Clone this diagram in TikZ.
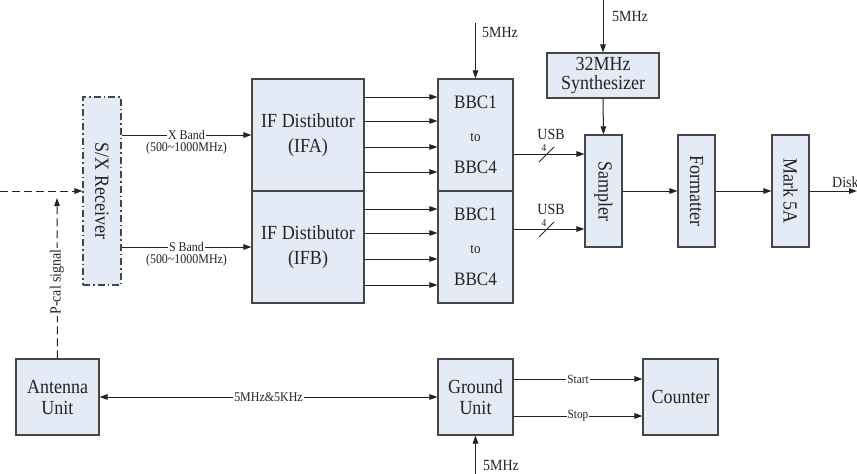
\documentclass[tikz,border=0pt]{standalone}
\usepackage{fontspec}
\setmainfont[FakeStretch=0.9]{Liberation Serif}
\usetikzlibrary{arrows.meta}
\definecolor{boxfill}{RGB}{228,235,246}
\definecolor{edge}{RGB}{70,70,70}
\definecolor{ink}{RGB}{35,35,35}
\begin{document}
\begin{tikzpicture}[x=1pt,y=-1pt,
  blk/.style={draw=edge, fill=boxfill, line width=1.1pt, inner sep=0pt, text=ink, align=center},
  big/.style={font=\fontsize{20}{22}\selectfont},
  arr/.style={draw=ink, line width=1pt, -{Triangle[length=8pt,width=5.5pt]}},
  dashline/.style={dash pattern=on 8pt off 4pt},
  lbl/.style={font=\fontsize{13.3}{15}\selectfont, text=ink, fill=white, inner sep=1pt},
  sml/.style={font=\fontsize{13.3}{15}\selectfont, text=ink, inner sep=0pt},
  mid/.style={font=\fontsize{15.5}{17}\selectfont, text=ink, inner sep=0pt}
]
\useasboundingbox (0,0) rectangle (857,474);

% blocks
\node[blk, minimum width=38pt, minimum height=188pt, dash pattern=on 7pt off 3pt on 1.5pt off 3pt,
      label={[rotate=-90, big, text=ink]center:S/X Receiver}] (sx) at (102,191) {};
\node[blk, font=\fontsize{20}{25}\selectfont, minimum width=112pt, minimum height=112pt] (ifa) at (308,135) {IF Distibutor\\(IFA)};
\node[blk, font=\fontsize{20}{25}\selectfont, minimum width=112pt, minimum height=112pt] (ifb) at (308,247) {IF Distibutor\\(IFB)};
\node[blk, font=\fontsize{19}{32.5}\selectfont, minimum width=75pt, minimum height=112pt] (bbca) at (475.5,135) {BBC1\\{\fontsize{14.5}{16}\selectfont to}\\BBC4};
\node[blk, font=\fontsize{19}{32.5}\selectfont, minimum width=75pt, minimum height=112pt] (bbcb) at (475.5,247) {BBC1\\{\fontsize{14.5}{16}\selectfont to}\\BBC4};
\node[blk, font=\fontsize{20}{18.5}\selectfont, minimum width=112pt, minimum height=45pt] (synth) at (603,75.5) {32MHz\\Synthesizer};
\node[blk, minimum width=37pt, minimum height=112pt, label={[rotate=-90, big, text=ink]center:Sampler}] (sampler) at (603.5,191) {};
\node[blk, minimum width=37pt, minimum height=112pt, label={[rotate=-90, big, text=ink]center:Formatter}] (formatter) at (696.5,191) {};
\node[blk, minimum width=37pt, minimum height=112pt, label={[rotate=-90, big, text=ink]center:Mark 5A}] (mark) at (790.5,191) {};
\node[blk, font=\fontsize{20}{21}\selectfont, minimum width=83pt, minimum height=76pt] (antenna) at (57.5,397) {Antenna\\Unit};
\node[blk, font=\fontsize{20}{21}\selectfont, minimum width=75pt, minimum height=76pt] (ground) at (475.5,397) {Ground\\Unit};
\node[blk, big, minimum width=75pt, minimum height=76pt] (counter) at (680.5,397) {Counter};

% free ends
\coordinate (inL) at (0,191);
\coordinate (pcalend) at (57,198);
\coordinate (bbcsrc) at (475.5,23);
\coordinate (synsrc) at (603,0);
\coordinate (diskend) at (857,191);
\coordinate (gndsrc) at (475.5,474);

% receiver input and P-cal
\draw[arr, dashline] (inL) -- (sx.west);
\draw[arr, dashline] (antenna.north) -- (pcalend);
\node[sml, fill=white, inner sep=1.5pt, font=\fontsize{15.5}{17}\selectfont, rotate=90] (pcal) at (57,282) {P-cal signal};

% bands
\draw[arr] (sx.east |- ifa.west) -- node[lbl, pos=0.5] (xb) {X Band} (ifa.west);
\node[sml] (xbr) at (186.5,148) {(500\textasciitilde1000MHz)};
\draw[arr] (sx.east |- ifb.west) -- node[lbl, pos=0.5] (sb) {S Band} (ifb.west);
\node[sml] (sbr) at (186.5,260) {(500\textasciitilde1000MHz)};

% IF to BBC
\foreach \yy in {97,121,147,172,209,233,259,285}
  \draw[arr] (ifa.east |- 0,\yy) -- (bbca.west |- 0,\yy);

% 5MHz refs
\draw[arr] (bbcsrc) -- (bbca.north);
\node[mid, anchor=west] (f1) at (482,33) {5MHz};
\draw[arr] (synsrc) -- (synth.north);
\node[mid, anchor=west] (f2) at (612,16) {5MHz};
\draw[arr] (synth.south) -- (sampler.north);

% USB
\draw[arr] (bbca.east |- 0,154) -- (sampler.west |- 0,154);
\draw[arr] (bbcb.east |- 0,229) -- (sampler.west |- 0,229);
\node[mid] (usb1) at (551,134) {USB};
\node[mid] (usb2) at (551,209) {USB};
\node[sml, font=\fontsize{10.5}{12}\selectfont] (n1) at (544,148) {4};
\node[sml, font=\fontsize{10.5}{12}\selectfont] (n2) at (544,223) {4};
\draw[ink, line width=0.9pt] (539,162) -- (554,147);
\draw[ink, line width=0.9pt] (539,237) -- (554,222);

% chain
\draw[arr] (sampler.east) -- (formatter.west);
\draw[arr] (formatter.east) -- (mark.west);
\draw[arr] (mark.east) -- (diskend);
\node[mid, anchor=west] (disk) at (832,182) {Disk};

% bottom
\draw[draw=ink, line width=1pt, {Triangle[length=8pt,width=5.5pt]}-{Triangle[length=8pt,width=5.5pt]}]
  (antenna.east) -- node[lbl, pos=0.5] (ref) {5MHz\&5KHz} (ground.west);
\draw[arr] (ground.east |- 0,379) -- node[lbl, font=\fontsize{12.5}{14}\selectfont, pos=0.5] (st) {Start} (counter.west |- 0,379);
\draw[arr] (ground.east |- 0,416) -- node[lbl, font=\fontsize{12.5}{14}\selectfont, pos=0.5] (sp) {Stop} (counter.west |- 0,416);
\draw[arr] (gndsrc) -- (ground.south);
\node[mid, anchor=west] (f3) at (483,465) {5MHz};
\end{tikzpicture}
\end{document}
